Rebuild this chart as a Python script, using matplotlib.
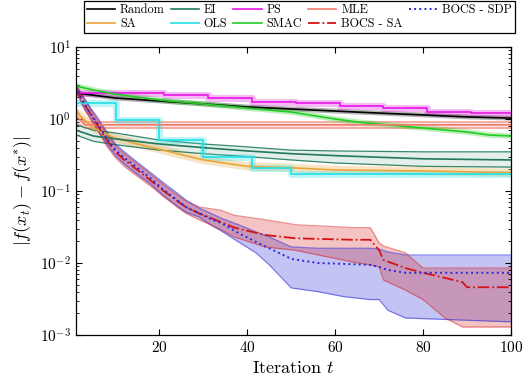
import numpy as np
import matplotlib
matplotlib.use("Agg")
import matplotlib.pyplot as plt

plt.rcParams["font.family"] = "serif"
plt.rcParams["font.serif"] = ["cmr10", "DejaVu Serif"]
plt.rcParams["mathtext.fontset"] = "cm"
plt.rcParams["axes.formatter.use_mathtext"] = True

# --- values ---
t_random = [1, 10, 20, 30, 40, 50, 60, 70, 80, 90, 100]
random_mean = [2.30, 1.96, 1.78, 1.62, 1.47, 1.38, 1.29, 1.21, 1.14, 1.07, 1.03]

t_ps = [1, 21, 31, 41, 51, 61, 71, 81, 91, 100]
ps_mean = [2.30, 2.15, 1.96, 1.72, 1.67, 1.52, 1.42, 1.25, 1.21, 1.21]

t_smac = [1, 5, 10, 15, 20, 25, 30, 40, 50, 60, 65, 70, 80, 90, 95, 100]
smac_mean = [2.87, 2.53, 2.22, 2.02, 1.84, 1.72, 1.62, 1.42, 1.25, 1.0, 0.91,
             0.85, 0.75, 0.66, 0.60, 0.58]

t_mle = [1, 2, 3, 100]
mle_mean = [1.10, 0.97, 0.83, 0.83]
mle_lo = [0.85, 0.82, 0.75, 0.75]
mle_hi = [1.40, 1.10, 0.91, 0.91]

t_sa = [1, 5, 10, 15, 20, 25, 30, 40, 50, 60, 80, 100]
sa_mean = [1.25, 0.75, 0.54, 0.45, 0.38, 0.32, 0.27, 0.22, 0.21, 0.196, 0.19, 0.18]

t_ei = [1, 5, 10, 20, 30, 40, 50, 60, 80, 100]
ei_mean = [0.70, 0.58, 0.53, 0.45, 0.40, 0.36, 0.33, 0.31, 0.28, 0.27]
ei_hi = [0.83, 0.70, 0.64, 0.51, 0.45, 0.41, 0.37, 0.36, 0.35, 0.35]
ei_lo = [0.60, 0.49, 0.44, 0.37, 0.33, 0.30, 0.27, 0.245, 0.22, 0.215]

t_ols = [1, 10, 20, 30, 41, 50, 100]
ols_mean = [1.67, 0.97, 0.51, 0.30, 0.21, 0.17, 0.17]

t_sdp = [1, 2, 3, 4, 5, 6, 8, 10, 12, 15, 18, 21, 24, 26, 29, 32, 34, 38, 42,
         45, 50, 56, 62, 68, 70, 72, 76, 100]
sdp_mean = [2.78, 2.09, 1.62, 1.29, 1.03, 0.85, 0.54, 0.37, 0.29, 0.21, 0.15,
            0.103, 0.075, 0.060, 0.049, 0.040, 0.036, 0.026, 0.0196, 0.016,
            0.0114, 0.010, 0.0097, 0.0094, 0.0088, 0.0080, 0.0073, 0.0073]
sdp_hi = [3.06, 2.37, 1.90, 1.52, 1.25, 1.03, 0.66, 0.45, 0.35, 0.25, 0.18,
          0.129, 0.094, 0.075, 0.058, 0.048, 0.042, 0.034, 0.027, 0.023,
          0.0167, 0.016, 0.016, 0.016, 0.0156, 0.0142, 0.0129, 0.0129]
sdp_lo = [2.53, 1.84, 1.38, 1.10, 0.88, 0.70, 0.45, 0.31, 0.237, 0.17, 0.125,
          0.085, 0.062, 0.051, 0.0435, 0.033, 0.028, 0.0196, 0.0138, 0.0094,
          0.0045, 0.0040, 0.0034, 0.0031, 0.0031, 0.0022, 0.00172, 0.00152]

t_bsa = [1, 2, 3, 4, 5, 6, 8, 10, 12, 15, 18, 21, 24, 26, 29, 34, 37, 44, 51,
         64, 68, 70, 71, 76, 80, 85, 89, 90, 100]
bsa_mean = [2.70, 2.02, 1.56, 1.25, 1.0, 0.80, 0.51, 0.35, 0.27, 0.196, 0.14,
            0.10, 0.073, 0.060, 0.049, 0.037, 0.031, 0.0245, 0.022, 0.021,
            0.021, 0.015, 0.011, 0.0085, 0.0073, 0.0062, 0.0054, 0.0046, 0.0046]
bsa_hi = [2.97, 2.30, 1.84, 1.47, 1.17, 0.94, 0.62, 0.42, 0.33, 0.237, 0.17,
          0.121, 0.088, 0.073, 0.060, 0.054, 0.046, 0.040, 0.034, 0.031,
          0.031, 0.019, 0.0172, 0.0138, 0.0085, 0.0085, 0.0085, 0.0085, 0.0085]
bsa_lo = [2.45, 1.78, 1.33, 1.07, 0.85, 0.68, 0.42, 0.29, 0.22, 0.16, 0.117,
          0.083, 0.060, 0.049, 0.040, 0.029, 0.023, 0.0167, 0.015, 0.0103,
          0.0094, 0.0088, 0.0058, 0.0042, 0.0031, 0.00172, 0.00129, 0.00129,
          0.00129]

C_RANDOM = "black"
C_EI = "#217a5b"
C_PS = "#e616e6"
C_MLE = "#f27a6a"
C_SDP = "#2a2ad8"
C_SA = "#e8a63a"
C_OLS = "#22e0e6"
C_SMAC = "#22cc22"
C_BSA = "#d41414"

fig = plt.figure(figsize=(5.24, 3.89), dpi=100)
ax = fig.add_axes([0.145, 0.139, 0.83, 0.74])


def halo(t, y, c, w, step=False):
    ds = "steps-post" if step else "default"
    ax.plot(t, y, color=c, lw=w, alpha=0.3, drawstyle=ds, solid_capstyle="butt")


def band(t, lo, hi, c, a=0.25, ea=0.6):
    ax.fill_between(t, lo, hi, color=c, alpha=a, lw=0)
    ax.plot(t, lo, color=c, lw=0.9, alpha=ea)
    ax.plot(t, hi, color=c, lw=0.9, alpha=ea)


# bands / halos
halo(t_sa, sa_mean, C_SA, 6)
band(t_mle, mle_lo, mle_hi, C_MLE, a=0.2, ea=0.9)
band(t_ei, ei_lo, ei_hi, C_EI, a=0.12, ea=0.9)
halo(t_ols, ols_mean, C_OLS, 5, step=True)
halo(t_random, random_mean, C_RANDOM, 3.5)
halo(t_smac, smac_mean, C_SMAC, 4)
halo(t_ps, ps_mean, C_PS, 5, step=True)
band(t_sdp, sdp_lo, sdp_hi, C_SDP, a=0.28, ea=0.55)
band(t_bsa, bsa_lo, bsa_hi, C_BSA, a=0.25, ea=0.45)

# mean lines
l_random, = ax.plot(t_random, random_mean, color=C_RANDOM, lw=1.2, label="Random")
l_sa, = ax.plot(t_sa, sa_mean, color=C_SA, lw=1.2, label="SA")
l_ei, = ax.plot(t_ei, ei_mean, color=C_EI, lw=1.2, label="EI")
l_ols, = ax.plot(t_ols, ols_mean, color=C_OLS, lw=1.2, drawstyle="steps-post", label="OLS")
l_ps, = ax.plot(t_ps, ps_mean, color=C_PS, lw=1.2, drawstyle="steps-post", label="PS")
l_smac, = ax.plot(t_smac, smac_mean, color=C_SMAC, lw=1.2, label="SMAC")
l_mle, = ax.plot(t_mle, mle_mean, color=C_MLE, lw=1.2, label="MLE")
l_bsa, = ax.plot(t_bsa, bsa_mean, color=C_BSA, lw=1.3, ls="-.", label="BOCS - SA")
l_sdp, = ax.plot(t_sdp, sdp_mean, color=C_SDP, lw=1.4, ls=":", label="BOCS - SDP")

ax.set_yscale("log")
ax.set_xlim(1, 100)
ax.set_ylim(1e-3, 1e1)
ax.set_xticks([20, 40, 60, 80, 100])
ax.tick_params(which="both", direction="in", top=True, right=True, labelsize=11)
ax.tick_params(which="major", length=4)
ax.tick_params(which="minor", length=2)
for s in ax.spines.values():
    s.set_linewidth(0.9)
ax.set_xlabel("Iteration $t$", fontsize=13)
ax.set_ylabel(r"$|f(x_t) - f(x^{*})|$", fontsize=13)

handles = [l_random, l_sa, l_ei, l_ols, l_ps, l_smac, l_mle, l_bsa, l_sdp]
leg = fig.legend(handles=handles, loc="upper right", bbox_to_anchor=(0.982, 0.997),
                 ncol=5, fontsize=8.8, frameon=True, fancybox=False,
                 edgecolor="black", framealpha=1, handlelength=2.3,
                 columnspacing=0.5, handletextpad=0.4, borderpad=0.25,
                 labelspacing=0.15, borderaxespad=0)
leg.get_frame().set_linewidth(0.9)

fig.savefig("out.png", dpi=100)
